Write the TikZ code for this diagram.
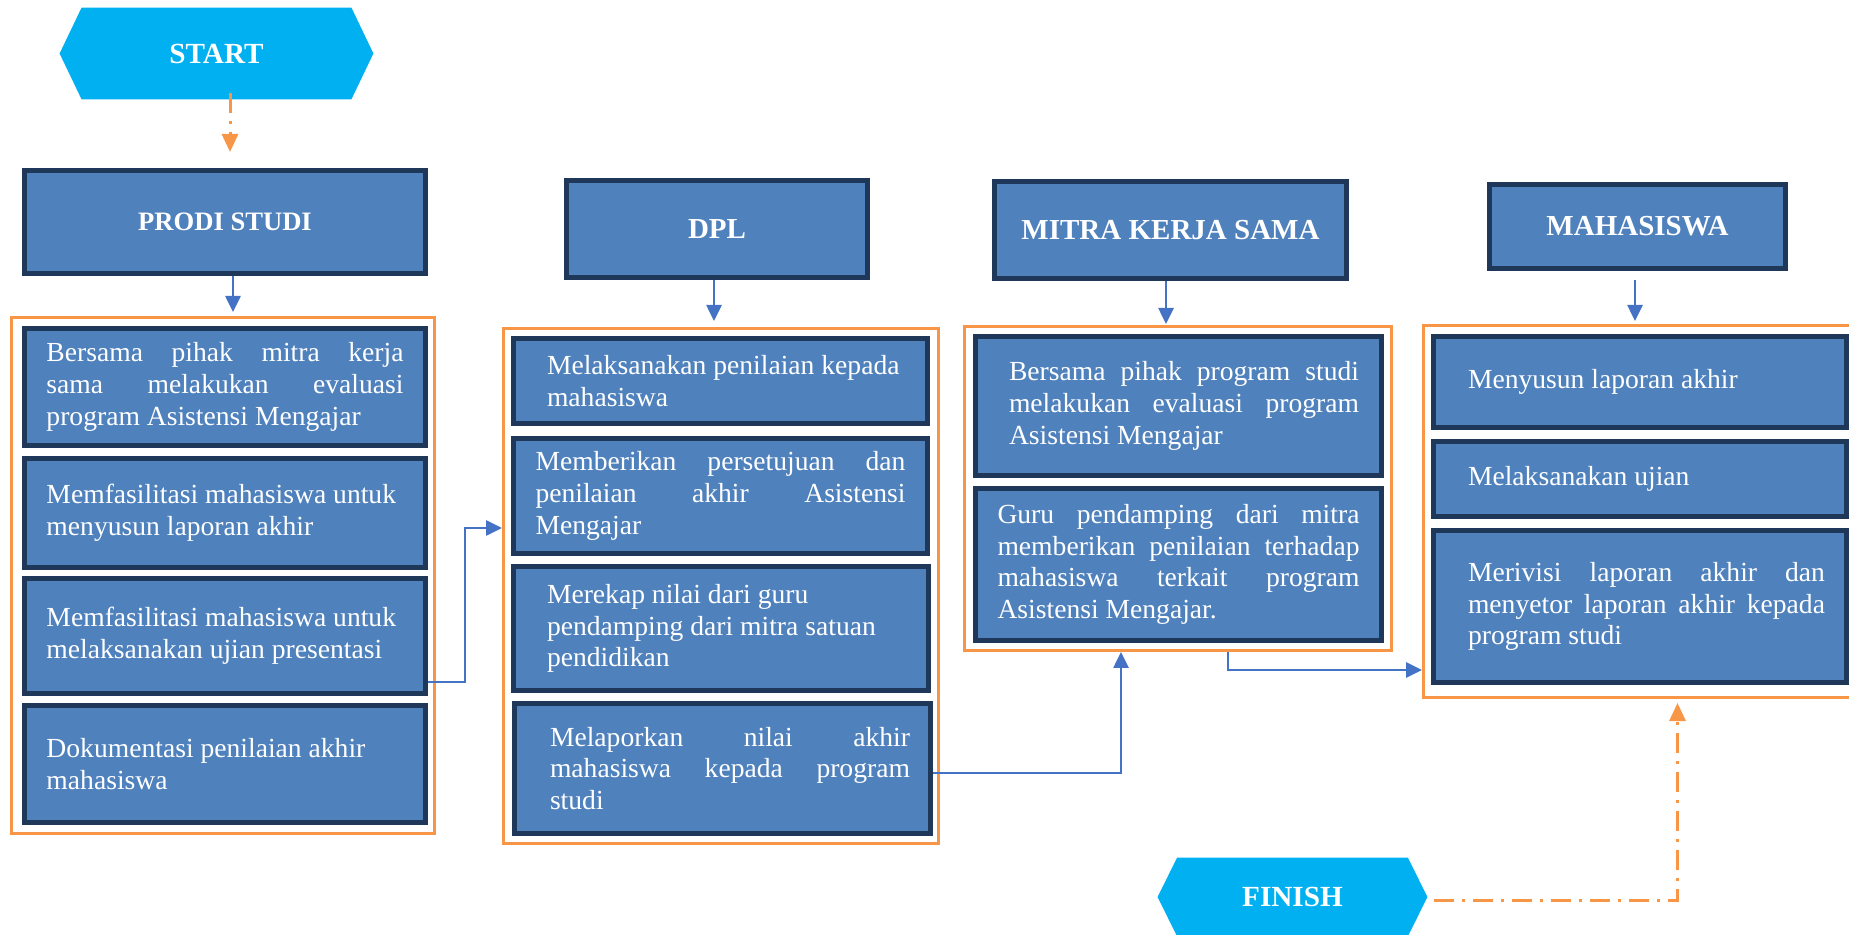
\documentclass[tikz,border=0pt]{standalone}
\usepackage{fontspec}
\setmainfont{Liberation Serif}
\usetikzlibrary{arrows.meta,backgrounds}
\definecolor{boxblue}{RGB}{79,129,189}
\definecolor{boxedge}{RGB}{31,55,88}
\definecolor{groupedge}{RGB}{247,150,70}
\definecolor{termfill}{RGB}{0,176,240}
\definecolor{flowblue}{RGB}{68,114,196}
\begin{document}
\begin{tikzpicture}[x=0.5pt,y=-0.5pt,
  every node/.style={inner sep=0pt},
  headbox/.style={draw=boxedge, fill=boxblue, line width=2.5pt, text=white,
    font=\bfseries\fontsize{14.5pt}{17pt}\selectfont},
  stepbox/.style={draw=boxedge, fill=boxblue, line width=2.5pt, text=white,
    font=\fontsize{13.8pt}{15.9pt}\selectfont},
  group/.style={draw=groupedge, fill=white, line width=1.5pt},
  termtext/.style={text=white, font=\bfseries\fontsize{14.6pt}{17pt}\selectfont},
  termshape/.style={fill=termfill},
  bflow/.style={draw=flowblue, line width=1.3pt, -{Triangle[width=7.5pt,length=8pt]}},
  oflow/.style={draw=groupedge, line width=1.5pt,
    dash pattern=on 10pt off 4pt on 1.5pt off 4pt,
    -{Triangle[width=8pt,length=9pt]}},
]
\useasboundingbox (0,0) rectangle (1849,935);
\clip (0,0) rectangle (1849,935);

% ---------- terminals ----------
\node[termtext, minimum width=156.5pt, minimum height=45.5pt] (start) at (216.5,53.5) {START};
\node[termtext, minimum width=134.5pt, minimum height=39pt] (finish) at (1292.5,897) {FINISH};
\begin{scope}[on background layer]
  \fill[termshape] (start.west) -- ([xshift=11pt]start.north west) -- ([xshift=-11pt]start.north east)
    -- (start.east) -- ([xshift=-11pt]start.south east) -- ([xshift=11pt]start.south west) -- cycle;
  \fill[termshape] (finish.west) -- ([xshift=9.75pt]finish.north west) -- ([xshift=-9.75pt]finish.north east)
    -- (finish.east) -- ([xshift=-9.75pt]finish.south east) -- ([xshift=9.75pt]finish.south west) -- cycle;
\end{scope}

% ---------- column headers ----------
\node[headbox, minimum width=200.5pt, minimum height=51.5pt,
  font=\bfseries\fontsize{13.3pt}{16pt}\selectfont] (prodi) at (225,222) {PRODI STUDI};
\node[headbox, minimum width=150.5pt, minimum height=48.5pt] (dpl) at (717,229) {DPL};
\node[headbox, minimum width=176pt, minimum height=48.5pt] (mitra) at (1170.5,230) {MITRA KERJA SAMA};
\node[headbox, minimum width=148pt, minimum height=42pt] (maha) at (1637.5,226.5) {MAHASISWA};

% ---------- groups ----------
\node[group, minimum width=211.5pt, minimum height=258pt] (gp) at (223,575.5) {};
\node[group, minimum width=217.5pt, minimum height=257.5pt] (gd) at (721,586) {};
\node[group, minimum width=213.5pt, minimum height=162pt] (gm) at (1178,488.5) {};
\node[group, minimum width=227.5pt, minimum height=186pt] (gh) at (1651,511.5) {};

% ---------- PRODI STUDI tasks ----------
\node[stepbox, minimum width=200.5pt, minimum height=58.5pt] (p1) at (225,387)
  {\parbox{178.5pt}{Bersama pihak mitra kerja\linebreak sama melakukan evaluasi\linebreak program Asistensi Mengajar}};
\node[stepbox, minimum width=200.5pt, minimum height=54.5pt] (p2) at (225,513)
  {\parbox{178.5pt}{Memfasilitasi mahasiswa untuk\newline menyusun laporan akhir}};
\node[stepbox, minimum width=200.5pt, minimum height=57.5pt] (p3) at (225,636)
  {\parbox{178.5pt}{Memfasilitasi mahasiswa untuk\newline melaksanakan ujian presentasi}};
\node[stepbox, minimum width=200.5pt, minimum height=58.5pt] (p4) at (225,764)
  {\parbox{178.5pt}{Dokumentasi penilaian akhir\newline mahasiswa}};

% ---------- DPL tasks ----------
\node[stepbox, minimum width=207pt, minimum height=42.5pt] (d1) at (720.5,381)
  {\hspace*{5.5pt}\parbox{179pt}{Melaksanakan penilaian kepada\newline mahasiswa}};
\node[stepbox, minimum width=207pt, minimum height=57.5pt] (d2) at (720.5,496)
  {\parbox{185pt}{Memberikan persetujuan dan\linebreak penilaian akhir Asistensi\linebreak Mengajar}};
\node[stepbox, minimum width=207.5pt, minimum height=62pt] (d3) at (721,628.5)
  {\hspace*{5.5pt}\parbox{179.5pt}{Merekap nilai dari guru\newline pendamping dari mitra satuan\newline pendidikan}};
\node[stepbox, minimum width=208pt, minimum height=65pt] (d4) at (722.5,768.5)
  {\hspace*{7.5pt}\parbox{180pt}{Melaporkan nilai akhir\linebreak mahasiswa kepada program\linebreak studi}};

% ---------- MITRA KERJA SAMA tasks ----------
\node[stepbox, minimum width=203pt, minimum height=69.5pt] (m1) at (1178.5,406)
  {\hspace*{5.5pt}\parbox{175pt}{Bersama pihak program studi\linebreak melakukan evaluasi program\linebreak Asistensi Mengajar}};
\node[stepbox, minimum width=203pt, minimum height=76pt] (m2) at (1178.5,564.5)
  {\parbox{181pt}{Guru pendamping dari mitra\linebreak memberikan penilaian terhadap\linebreak mahasiswa terkait program\linebreak Asistensi Mengajar.}};

% ---------- MAHASISWA tasks ----------
\node[stepbox, minimum width=206.5pt, minimum height=45.5pt] (h1) at (1640,382)
  {\hspace*{6.5pt}\parbox{178.5pt}{Menyusun laporan akhir}};
\node[stepbox, minimum width=206.5pt, minimum height=37.5pt] (h2) at (1640,479)
  {\hspace*{6.5pt}\parbox{178.5pt}{Melaksanakan ujian}};
\node[stepbox, minimum width=206.5pt, minimum height=76pt] (h3) at (1640,606.5)
  {\hspace*{6.5pt}\parbox{178.5pt}{Merivisi laporan akhir dan\linebreak menyetor laporan akhir kepada\linebreak program studi}};

% ---------- connectors ----------
\draw[oflow, shorten >=8pt] ([xshift=6.75pt,yshift=3pt]start.south) -- ([xshift=6.75pt]start.south |- prodi.north);
\draw[bflow, shorten >=2pt] ([xshift=4pt]prodi.south) -- ([xshift=4pt]prodi.south |- gp.north);
\draw[bflow, shorten >=3pt] ([xshift=-1.5pt]dpl.south) -- ([xshift=-1.5pt]dpl.south |- gd.north);
\draw[bflow, shorten >=0.5pt] ([xshift=-2.25pt]mitra.south) -- ([xshift=-2.25pt]mitra.south |- gm.north);
\draw[bflow, shorten <=4.5pt, shorten >=1.5pt] ([xshift=-1.25pt]maha.south) -- ([xshift=-1.25pt]maha.south |- gh.north);

\coordinate (j1) at (465,528);
\draw[bflow] ([yshift=-23pt]p3.east) -| (j1) -- (j1 -| gd.west);
\draw[bflow] ([yshift=-2.25pt]d4.east) -| ([xshift=-28.5pt]gm.south);
\draw[bflow] ([xshift=25pt]gm.south) |- ([yshift=-79.25pt]gh.west);
\draw[oflow, shorten <=3.5pt, shorten >=2pt] ([yshift=-1.5pt]finish.east) -| ([xshift=13.25pt]gh.south);
\end{tikzpicture}
\end{document}
